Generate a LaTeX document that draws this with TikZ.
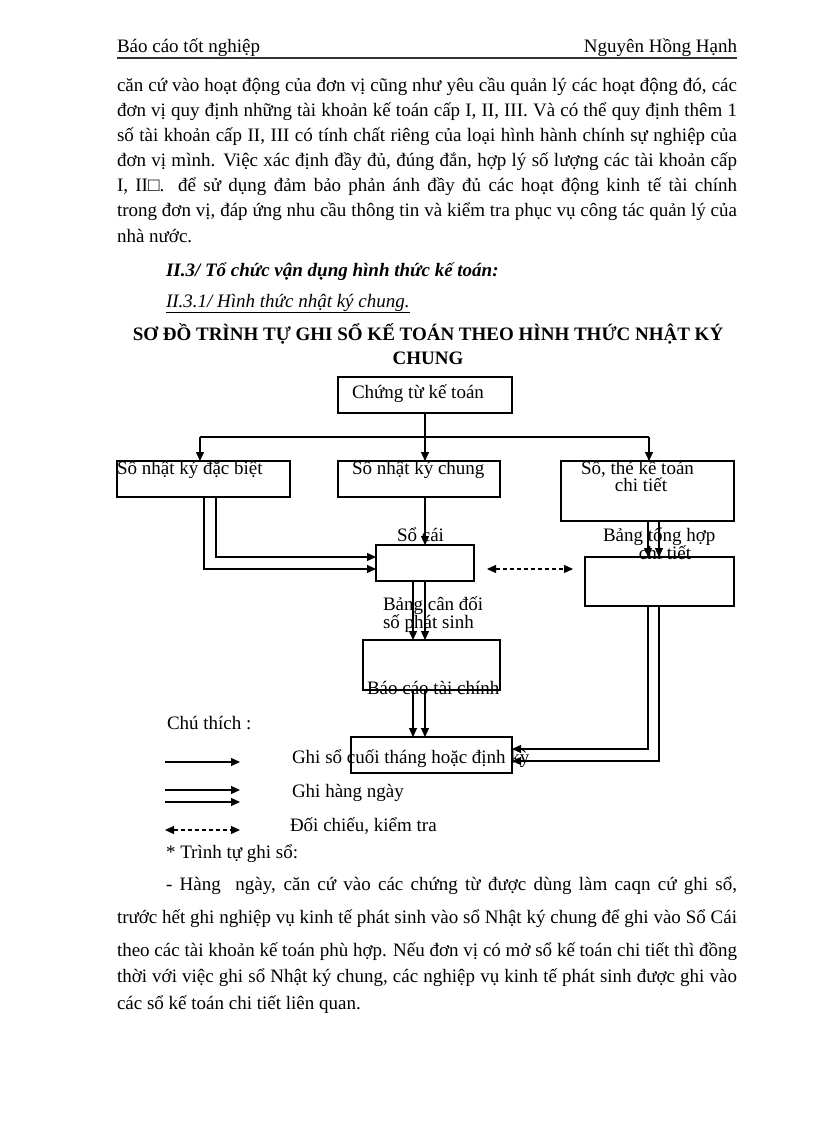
\documentclass[tikz,border=0pt]{standalone}
\usepackage{fontspec}
\setmainfont{Liberation Serif}
\usetikzlibrary{arrows.meta}
\newcommand{\jline}[2]{\makebox[#1][s]{#2}}
\begin{document}
\begin{tikzpicture}[x=1pt,y=-1pt,
  every node/.style={inner sep=0pt,outer sep=0pt,font=\fontsize{19}{22}\selectfont},
  box/.style={draw,line width=1.2pt,anchor=north west},
  txt/.style={anchor=base west},
  ctr/.style={anchor=base},
  arr/.style={line width=1.1pt,-{Triangle[length=9pt,width=8pt]}},
  chk/.style={line width=1.1pt,dash pattern=on 4pt off 3pt,{Triangle[length=9pt,width=8pt]}-{Triangle[length=9pt,width=8pt]}}]
\useasboundingbox (0,0) rectangle (816,1123);
\fill[white] (0,0) rectangle (816,1123);

% header
\node[txt] (h1) at (117,53) {Báo cáo tốt nghiệp};
\node[anchor=base east] (h2) at (737,53) {Nguyên Hồng Hạnh};
\draw[line width=1.4pt,black!80] (117,58) -- (737,58);

% paragraph
\node[txt] (p1) at (117,92) {\jline{620pt}{căn cứ vào hoạt động của đơn vị cũng như yêu cầu quản lý các hoạt động đó, các}};
\node[txt] (p2) at (117,117) {\jline{620pt}{đơn vị quy định những tài khoản kế toán cấp I, II, III. Và có thể quy định thêm 1}};
\node[txt] (p3) at (117,142) {\jline{620pt}{số tài khoản cấp II, III có tính chất riêng của loại hình hành chính sự nghiệp của}};
\node[txt] (p4) at (117,167) {\jline{620pt}{đơn vị mình. Việc xác định đầy đủ, đúng đắn, hợp lý số lượng các tài khoản cấp}};
\node[txt] (p5) at (117,192) {\jline{620pt}{I, II□. để sử dụng đảm bảo phản ánh đầy đủ các hoạt động kinh tế tài chính}};
\node[txt] (p6) at (117,217) {\jline{620pt}{trong đơn vị, đáp ứng nhu cầu thông tin và kiểm tra phục vụ công tác quản lý của}};
\node[txt] (p7) at (117,242) {nhà nước.};

\node[txt] (s1) at (166,276) {\textbf{\textit{II.3/ Tổ chức vận dụng hình thức kế toán:}}};
\node[txt] (s2) at (166,307) {\underline{\textit{II.3.1/ Hình thức nhật ký chung.}}};
\node[ctr] (t1) at (428,340) {\textbf{SƠ ĐỒ TRÌNH TỰ GHI SỔ KẾ TOÁN THEO HÌNH THỨC NHẬT KÝ}};
\node[ctr] (t2) at (428,364) {\textbf{CHUNG}};

% boxes
\node[box,minimum width=174pt,minimum height=36pt] (ct) at (338,377) {};
\node[box,minimum width=173pt,minimum height=36pt] (nkdb) at (117,461) {};
\node[box,minimum width=162pt,minimum height=36pt] (snkc) at (338,461) {};
\node[box,minimum width=173pt,minimum height=60pt] (ct3) at (561,461) {};
\node[box,minimum width=98pt,minimum height=36pt] (socai) at (376,545) {};
\node[box,minimum width=149pt,minimum height=49pt] (bth) at (585,557) {};
\node[box,minimum width=137pt,minimum height=50pt] (bcd) at (363,640) {};
\node[box,minimum width=161pt,minimum height=36pt] (bctc) at (351,737) {};

% column coordinates
\coordinate (xA) at (648,0);
\coordinate (xB) at (659,0);
\coordinate (xC) at (413,0);
\coordinate (xD) at (425,0);
\coordinate (xE) at (204,0);
\coordinate (xF) at (216,0);
\coordinate (yA) at (0,749);
\coordinate (yB) at (0,761);
\coordinate (yE) at (0,569);
\coordinate (yF) at (0,557);
\coordinate (busL) at (200,437);
\coordinate (busR) at (649,437);
\coordinate (dL) at (487,569);
\coordinate (dR) at (573,569);

% connectors
\draw[arr] (xD |- ct.south) -- (xD |- snkc.north);
\draw[line width=1.1pt] (busL) -- (busR);
\draw[arr] (busL) -- (busL |- nkdb.north);
\draw[arr] (busR) -- (busR |- ct3.north);
\draw[arr] (xD |- snkc.south) -- (xD |- socai.north);
\draw[arr] (xF |- nkdb.south) |- (socai.west |- yF);
\draw[arr] (xE |- nkdb.south) |- (socai.west |- yE);
\draw[chk] (dL) -- (dR);
\draw[arr] (xA |- ct3.south) -- (xA |- bth.north);
\draw[arr] (xB |- ct3.south) -- (xB |- bth.north);
\draw[arr] (xC |- socai.south) -- (xC |- bcd.north);
\draw[arr] (xD |- socai.south) -- (xD |- bcd.north);
\draw[arr] (xC |- bcd.south) -- (xC |- bctc.north);
\draw[arr] (xD |- bcd.south) -- (xD |- bctc.north);
\draw[arr] (xA |- bth.south) |- (bctc.east |- yA);
\draw[arr] (xB |- bth.south) |- (bctc.east |- yB);

% box texts
\node[txt] (lct) at (352,398) {Chứng từ kế toán};
\node[txt] (lnkdb) at (117,474) {Sổ nhật ký đặc biệt};
\node[txt] (lsnkc) at (352,474) {Sổ nhật ký chung};
\node[txt] (lct3a) at (581,474) {Sổ, thẻ kế toán};
\node[ctr] (lct3b) at (641,491) {chi tiết};
\node[txt] (lsc) at (397,541) {Sổ cái};
\node[txt] (lbtha) at (603,541) {Bảng tổng hợp};
\node[ctr] (lbthb) at (665,559) {chi tiết};
\node[txt] (lbcda) at (383,610) {Bảng cân đối};
\node[txt] (lbcdb) at (383,628) {số phát sinh};
\node[txt] (lbctc) at (367,694) {Báo cáo tài chính};

% legend
\node[txt] (ch) at (167,729) {Chú thích :};
\coordinate (g1a) at (165,762); \coordinate (g1b) at (240,762);
\coordinate (g2a) at (165,790); \coordinate (g2b) at (240,790);
\coordinate (g3a) at (165,802); \coordinate (g3b) at (240,802);
\coordinate (g4a) at (165,830); \coordinate (g4b) at (240,830);
\draw[arr] (g1a) -- (g1b);
\draw[arr] (g2a) -- (g2b);
\draw[arr] (g3a) -- (g3b);
\draw[chk] (g4a) -- (g4b);
\node[txt] (lg1) at (292,763) {Ghi sổ cuối tháng hoặc định kỳ};
\node[txt] (lg2) at (292,797) {Ghi hàng ngày};
\node[txt] (lg3) at (290,831) {Đối chiếu, kiểm tra};

% bottom paragraph
\node[txt] (b0) at (166,858) {* Trình tự ghi sổ:};
\node[txt] (b1) at (166,890) {\jline{571pt}{- Hàng\ \ ngày, căn cứ vào các chứng từ được dùng làm caqn cứ ghi sổ,}};
\node[txt] (b2) at (117,923) {\jline{620pt}{trước hết ghi nghiệp vụ kinh tế phát sinh vào sổ Nhật ký chung để ghi vào Sổ Cái}};
\node[txt] (b3) at (117,956) {\jline{620pt}{theo các tài khoản kế toán phù hợp. Nếu đơn vị có mở sổ kế toán chi tiết thì đồng}};
\node[txt] (b4) at (117,982) {\jline{620pt}{thời với việc ghi sổ Nhật ký chung, các nghiệp vụ kinh tế phát sinh được ghi vào}};
\node[txt] (b5) at (117,1009) {các sổ kế toán chi tiết liên quan.};
\end{tikzpicture}
\end{document}
